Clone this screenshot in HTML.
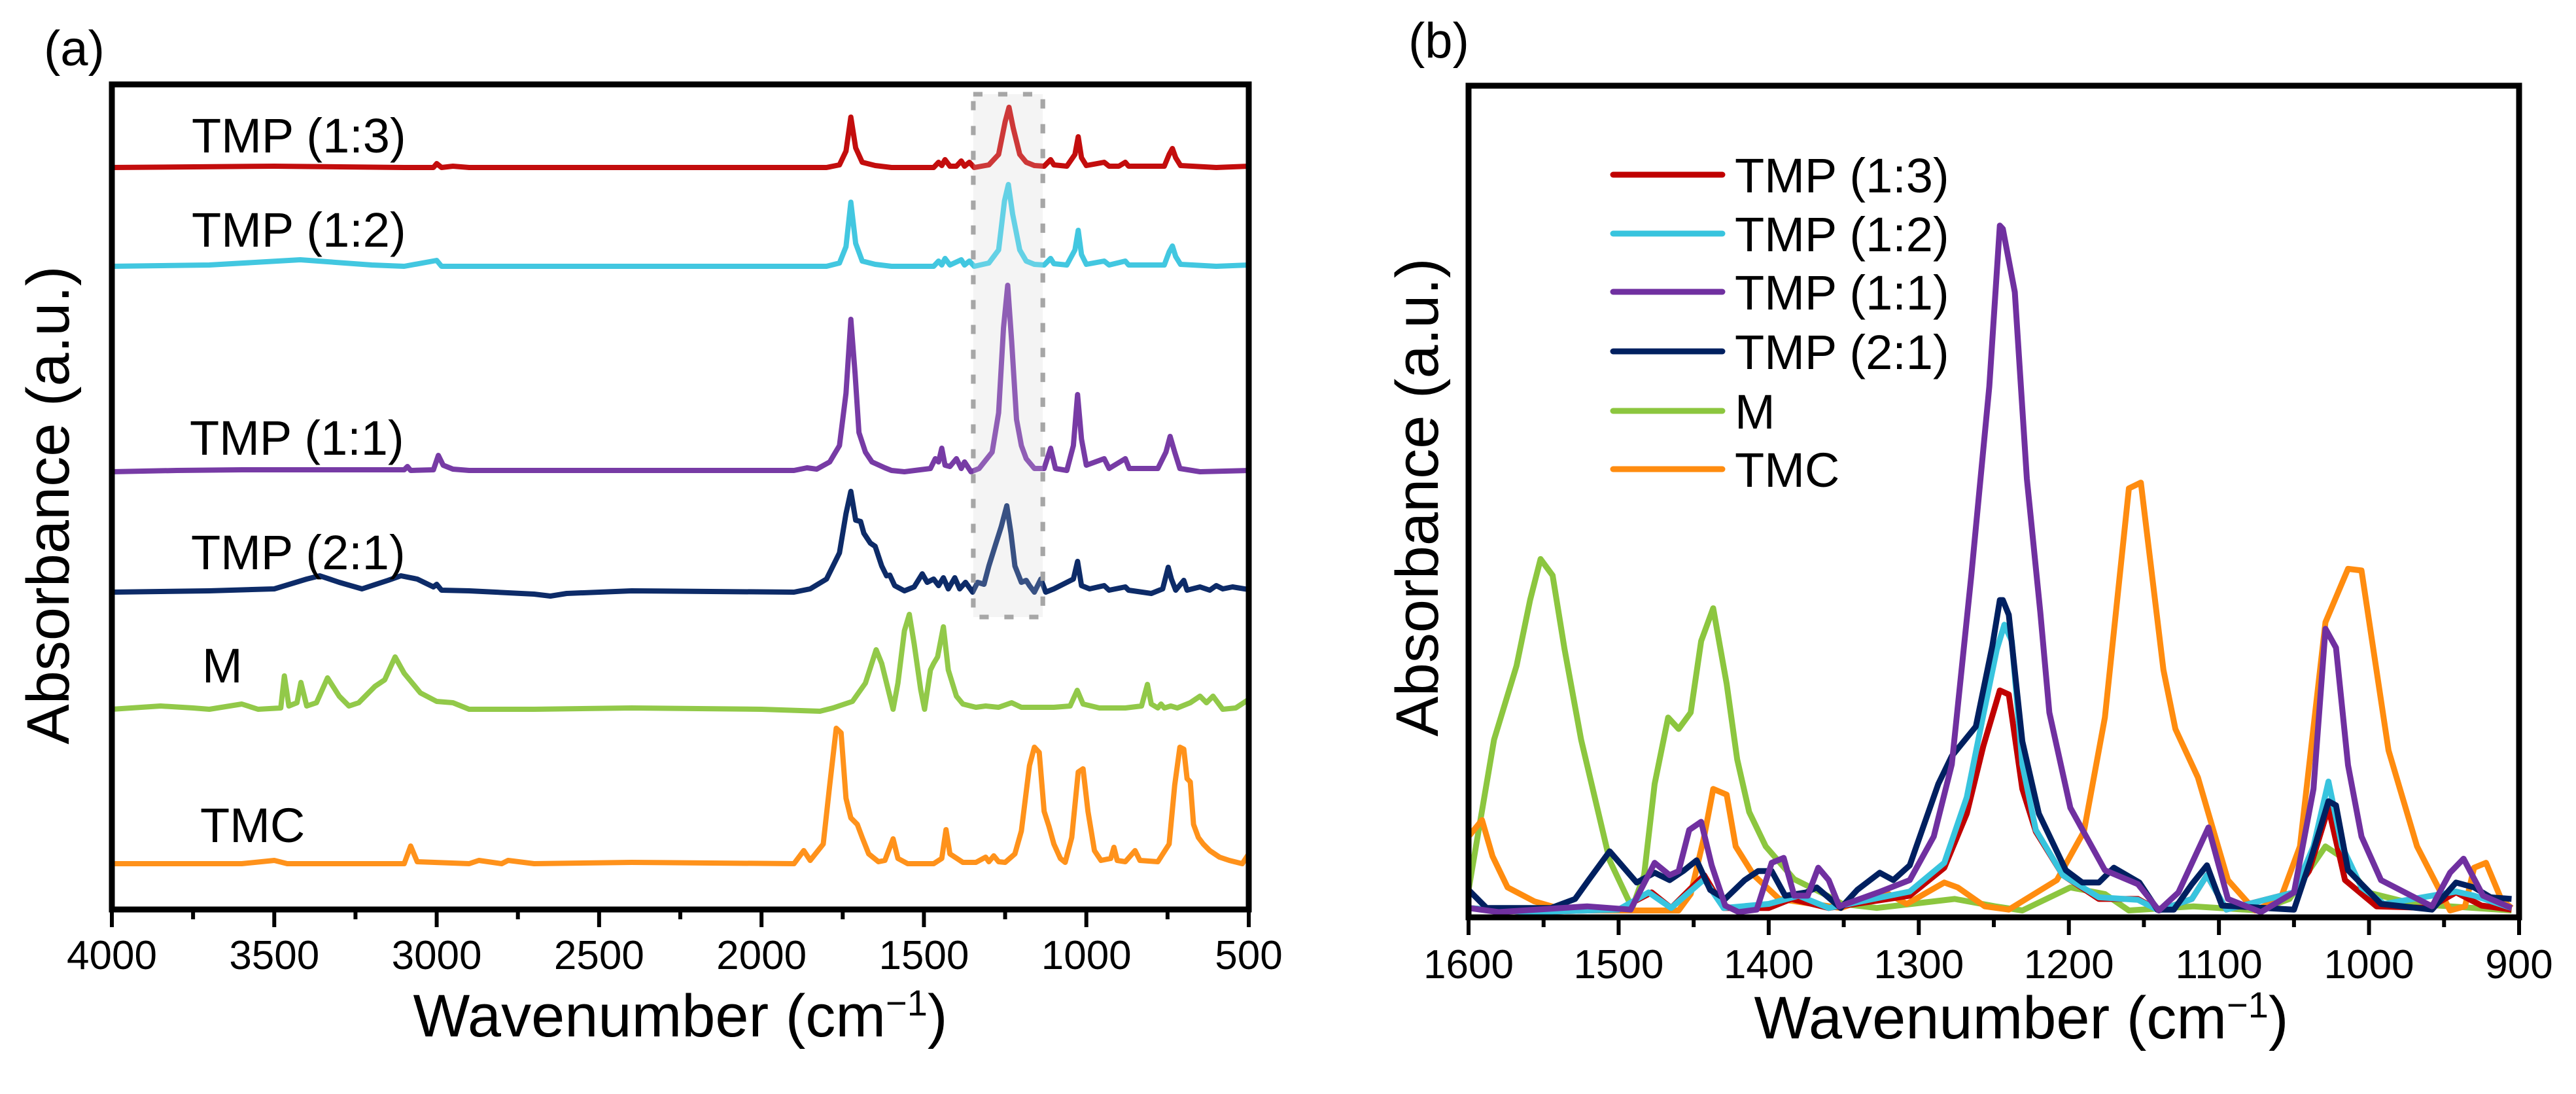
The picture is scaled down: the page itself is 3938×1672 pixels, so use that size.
<!DOCTYPE html>
<html><head><meta charset="utf-8"><style>
html,body{margin:0;padding:0;background:#fff}
svg{display:block;font-family:"Liberation Sans",Arial,sans-serif}
</style></head><body>
<svg id="fig" width="3938" height="1672" viewBox="0 0 3938 1672" xmlns="http://www.w3.org/2000/svg">
<g id="panelA"></g>
<g id="panelB"></g>
</svg>
<script>
// ---------- Panel (a) data: [wavenumber, height above own baseline] ----------
const aNames = ["TMP (1:3)","TMP (1:2)","TMP (1:1)","TMP (2:1)","M","TMC"];
const aOffsets = [1134, 983, 669, 485, 306, 70];
const aTicks = [4000,3500,3000,2500,2000,1500,1000,500];
const a13 = [[4000,0],[3500,2],[3100,0],[3010,0],[3000,6],[2985,0],[2950,2],[2900,0],[1800,0],[1760,4],[1740,25],[1725,77],[1710,30],[1690,8],[1650,3],[1600,0],[1470,0],[1455,8],[1445,3],[1435,12],[1420,2],[1400,2],[1385,10],[1375,2],[1360,8],[1345,0],[1300,4],[1270,20],[1250,70],[1238,92],[1225,60],[1205,20],[1185,8],[1160,3],[1130,2],[1110,12],[1100,4],[1060,2],[1035,20],[1025,47],[1015,15],[1000,3],[945,8],[930,2],[900,2],[880,8],[870,2],[760,2],[745,20],[735,29],[725,15],[710,3],[600,0],[500,2]];
const a12 = [[4000,0],[3700,2],[3420,10],[3200,2],[3100,0],[3000,9],[2985,0],[1800,0],[1760,5],[1740,30],[1725,98],[1710,35],[1690,8],[1650,3],[1600,0],[1470,0],[1455,8],[1445,2],[1435,12],[1420,2],[1385,10],[1375,2],[1360,8],[1345,0],[1300,5],[1270,25],[1252,100],[1240,125],[1227,80],[1205,25],[1185,8],[1160,3],[1130,2],[1110,12],[1100,4],[1060,2],[1035,25],[1025,55],[1015,18],[1000,3],[945,8],[930,2],[880,8],[870,2],[760,2],[745,22],[735,31],[725,15],[710,3],[600,0],[500,2]];
const a11 = [[4000,0],[3800,2],[3600,3],[3100,3],[3090,8],[3080,2],[3010,3],[2995,25],[2980,10],[2950,4],[2900,2],[1900,2],[1860,6],[1830,4],[1790,15],[1760,40],[1740,120],[1725,233],[1712,150],[1700,60],[1680,30],[1660,15],[1620,6],[1600,2],[1560,0],[1480,5],[1465,20],[1455,15],[1445,36],[1435,10],[1420,8],[1400,20],[1385,5],[1375,15],[1355,0],[1330,5],[1290,30],[1270,90],[1255,220],[1242,285],[1230,200],[1215,80],[1200,40],[1185,20],[1160,5],[1130,5],[1110,36],[1095,5],[1060,2],[1040,40],[1027,118],[1015,50],[1000,10],[945,20],[930,5],[880,20],[868,5],[780,5],[755,30],[742,54],[728,30],[712,5],[650,0],[500,2]];
const a21 = [[4000,0],[3700,2],[3500,5],[3400,20],[3360,25],[3300,15],[3230,5],[3150,18],[3110,25],[3060,20],[3010,8],[3000,12],[2985,3],[2900,2],[2700,-3],[2650,-6],[2600,-2],[2400,2],[1900,0],[1850,5],[1800,20],[1760,60],[1740,120],[1725,154],[1710,110],[1695,108],[1685,90],[1665,75],[1650,70],[1630,40],[1615,25],[1605,26],[1590,10],[1560,2],[1530,8],[1505,28],[1490,15],[1470,20],[1455,10],[1440,22],[1425,5],[1405,22],[1390,5],[1372,15],[1350,0],[1335,15],[1315,12],[1300,40],[1280,72],[1262,100],[1245,132],[1232,90],[1220,40],[1200,15],[1185,18],[1175,10],[1160,0],[1140,20],[1125,0],[1100,5],[1040,20],[1027,47],[1015,10],[990,5],[945,10],[930,3],[880,8],[870,3],[800,-2],[765,5],[748,38],[738,20],[725,3],[700,18],[690,3],[650,8],[620,3],[600,10],[580,5],[550,8],[500,4]];
const aM = [[4000,0],[3850,5],[3750,2],[3700,0],[3600,8],[3550,0],[3480,2],[3469,51],[3455,5],[3430,10],[3418,41],[3400,5],[3370,10],[3336,48],[3300,20],[3270,5],[3240,10],[3190,35],[3160,45],[3128,80],[3100,55],[3050,25],[3000,12],[2950,10],[2900,0],[2700,0],[2400,2],[2000,0],[1820,-3],[1780,2],[1720,12],[1680,40],[1647,91],[1630,70],[1610,30],[1595,0],[1580,40],[1560,120],[1545,145],[1530,100],[1510,30],[1498,0],[1480,60],[1470,70],[1458,80],[1440,126],[1425,60],[1400,20],[1380,8],[1340,3],[1310,5],[1270,3],[1230,10],[1200,3],[1100,3],[1050,5],[1028,29],[1010,8],[960,2],[880,2],[830,5],[812,38],[800,8],[780,2],[770,8],[760,2],[740,5],[720,2],[680,10],[650,20],[630,10],[610,20],[580,0],[540,2],[500,15]];
const aTMC = [[4000,0],[3600,0],[3500,5],[3460,0],[3100,0],[3080,27],[3060,3],[2900,0],[2870,5],[2800,0],[2780,5],[2700,0],[2400,2],[1900,0],[1870,20],[1850,5],[1810,30],[1790,120],[1770,207],[1755,200],[1740,100],[1725,70],[1705,60],[1690,40],[1670,15],[1640,3],[1620,5],[1595,38],[1580,8],[1550,0],[1470,0],[1445,8],[1432,52],[1420,15],[1380,2],[1340,2],[1310,10],[1300,3],[1285,12],[1270,3],[1250,2],[1220,15],[1200,50],[1175,150],[1160,178],[1145,170],[1130,80],[1115,57],[1100,30],[1080,8],[1065,2],[1045,40],[1025,140],[1010,145],[995,80],[975,20],[955,5],[925,8],[915,25],[905,5],[880,3],[850,20],[835,5],[780,3],[745,30],[728,120],[712,178],[700,175],[690,130],[680,125],[670,60],[655,40],[640,30],[620,20],[590,10],[560,5],[520,0],[500,15]];
const aSeries = [a13,a12,a11,a21,aM,aTMC];
const aBox = [1348,1134]; // highlighted wavenumber range

// ---------- Panel (b) data: [wavenumber, absorbance a.u. 0..100] ----------
const bNames = ["TMP (1:3)","TMP (1:2)","TMP (1:1)","TMP (2:1)","M","TMC"];
const bTicks = [1600,1500,1400,1300,1200,1100,1000,900];
const b13 = [[1600,0.5],[1560,0],[1500,0.3],[1478,2.4],[1465,0.5],[1443,4.5],[1430,0.5],[1400,0.5],[1385,1.6],[1360,0.5],[1306,2],[1283,5.4],[1268,12],[1257,20.2],[1246,27],[1240,26.5],[1231,15],[1222,9.8],[1204,4.5],[1180,1.6],[1154,1.6],[1140,0.2],[1118,1.6],[1108,4.5],[1095,0.3],[1050,2.4],[1040,5],[1027,12.7],[1016,3.9],[995,0.7],[960,0.5],[942,2.4],[925,0.8],[905,0.3]];
const b12 = [[1600,0.5],[1560,0],[1500,0.3],[1480,2.4],[1465,0.5],[1443,4],[1430,0.5],[1400,1],[1380,2],[1360,0.5],[1306,2.5],[1283,6],[1268,14],[1257,24],[1248,32],[1243,35],[1238,33],[1231,18],[1222,10],[1204,4.5],[1180,1.8],[1154,1.5],[1140,0.2],[1118,1.6],[1108,4.5],[1095,0.3],[1050,2.4],[1037,8],[1027,15.9],[1018,8],[1005,3],[990,1],[942,2.5],[930,2],[905,0.5]];
const b11 = [[1600,0.5],[1580,0],[1521,0.7],[1492,0.3],[1476,6],[1466,4.5],[1460,5],[1453,10],[1445,11],[1438,5.7],[1429,0.8],[1420,0],[1408,0.3],[1398,6],[1390,6.6],[1383,2],[1374,2],[1367,5.4],[1360,3.9],[1353,0.7],[1327,2.4],[1306,3.9],[1290,9.2],[1278,18],[1265,41],[1253,64],[1246,83.6],[1244,83.2],[1236,75.5],[1228,52.8],[1219,36.5],[1213,24.3],[1199,12.7],[1176,5.1],[1154,3.4],[1140,0.2],[1127,2.4],[1107,10.3],[1094,1.6],[1072,0],[1050,2.4],[1037,15],[1029,34.5],[1022,32.2],[1014,17.9],[1005,9.2],[992,3.9],[958,0.7],[946,4.8],[937,6.5],[924,2],[905,0.5]];
const b21 = [[1600,2.7],[1588,0.5],[1545,0.5],[1529,1.6],[1520,3.9],[1506,7.4],[1488,3.6],[1476,4.8],[1466,3.9],[1457,5],[1448,6.3],[1439,2.7],[1429,1.6],[1416,3.9],[1407,5],[1398,5],[1389,2],[1375,2.4],[1368,3],[1352,0.5],[1341,2.7],[1326,4.8],[1317,3.9],[1306,5.7],[1287,15.6],[1278,19],[1262,22.6],[1251,32.4],[1246,38],[1244,38],[1240,36.2],[1231,20.8],[1220,12],[1202,5.1],[1191,3.6],[1180,3.6],[1170,5.4],[1153,3.6],[1141,0.3],[1130,0.3],[1118,3.4],[1108,5.7],[1098,0.8],[1050,0.3],[1039,6.3],[1027,13.5],[1022,13],[1014,5.1],[992,1],[958,0.3],[942,3.6],[930,3],[919,1.8],[905,1.6]];
const bM = [[1601,1.6],[1583,21],[1568,30],[1559,38],[1552,43],[1544,41],[1536,32],[1525,21],[1506,6.3],[1491,0.5],[1483,4.5],[1476,15.6],[1467,23.7],[1460,22.3],[1452,24.3],[1445,33],[1437,37],[1428,27.8],[1421,18.6],[1413,12.2],[1402,8],[1383,4],[1363,2.2],[1351,1],[1328,0.5],[1276,1.6],[1249,0.7],[1231,0.2],[1199,3],[1176,2.2],[1160,0.2],[1117,0.7],[1074,0.2],[1053,1.6],[1029,8],[1019,6.8],[1001,2.4],[970,1],[905,0.2]];
const bTMC = [[1600,9.2],[1591,11.2],[1584,6.8],[1574,3],[1556,1.3],[1535,0.2],[1492,0.2],[1460,0.2],[1452,2.2],[1443,9.2],[1437,15],[1428,14.3],[1422,8],[1410,4.5],[1393,1.6],[1352,0.5],[1322,2.4],[1308,1],[1283,3.6],[1274,3],[1256,0.7],[1240,0.3],[1208,3.9],[1190,9.8],[1176,23.7],[1160,51.6],[1152,52.3],[1137,29.5],[1129,22.3],[1114,16.4],[1094,3.9],[1076,0.2],[1059,1.6],[1046,8],[1029,35.3],[1014,41.8],[1005,41.6],[987,19.7],[968,8],[946,0.2],[936,0.7],[930,5.4],[922,6],[912,1.6],[905,0.5]];
const bSeries = [b13,b12,b11,b21,bM,bTMC];

const colors = ["#c00000","#38c4de","#7030a0","#002060","#8cc63f","#ff8c0f"];
const NS = "http://www.w3.org/2000/svg";
function mk(parent, tag, attrs, text){
  const e = document.createElementNS(NS, tag);
  for (const k in attrs) e.setAttribute(k, attrs[k]);
  if (text !== undefined) e.textContent = text;
  parent.appendChild(e);
  return e;
}
const A = {l:171, r:1909, t:129, b:1390};
const axX = w => A.l + (4000 - w) / 3500 * (A.r - A.l);
const ayV = v => A.b - v;
const B = {l:2245, r:3851, t:131, b:1402};
const bxX = w => B.l + (1600 - w) / 700 * (B.r - B.l);
const byV = v => B.b - 8 - v * 12.55;

const gA = document.getElementById('panelA');
const gB = document.getElementById('panelB');

const bx = mk(gA,'rect',{x:axX(aBox[0]),y:144,width:axX(aBox[1])-axX(aBox[0]),height:799,fill:'#f2f2f2',stroke:'#a6a6a6','stroke-width':7,'stroke-dasharray':'14 24'});



const aLabelY = [233, 377, 695, 870, 1043, 1287];
const aLabelX = [293, 293, 290, 292, 309, 306];
aSeries.forEach((s,i)=>{
  const d = s.map((p,j)=>(j?'L':'M')+axX(p[0]).toFixed(1)+','+ayV(aOffsets[i]+p[1]).toFixed(1)).join(' ');
  const p = mk(gA,'path',{d:d,fill:'none',stroke:colors[i],'stroke-width':8,'stroke-linejoin':'round','stroke-opacity':0.95});
  
  
  const t = mk(gA,'text',{x:aLabelX[i],y:aLabelY[i],'font-size':74,fill:'#000'},aNames[i]);
  
  
});
const ov = mk(gA,'rect',{x:axX(aBox[0]),y:144,width:axX(aBox[1])-axX(aBox[0]),height:799,fill:'#ffffff','fill-opacity':0.18,stroke:'#a6a6a6','stroke-width':7,'stroke-dasharray':'14 24'});



const fa = mk(gA,'rect',{x:A.l,y:A.t,width:A.r-A.l,height:A.b-A.t,fill:'none',stroke:'#000','stroke-width':9});


for (let w=4000; w>=500; w-=250){
  const major = w % 500 === 0;
  const tk = mk(gA,'line',{x1:axX(w),x2:axX(w),y1:A.b,y2:A.b+(major?27:15),stroke:'#000','stroke-width':6});
  
  
}
aTicks.forEach(w=>{
  const t = mk(gA,'text',{x:axX(w),y:1481,'font-size':62,'text-anchor':'middle'},String(w));
  
  
});
const xtA = mk(gA,'text',{x:1040,y:1584,'font-size':92,'text-anchor':'middle'});


xtA.innerHTML = 'Wavenumber (cm<tspan dy="-32" font-size="56">−1</tspan><tspan dy="32">)</tspan>';
const ytA = mk(gA,'text',{x:0,y:0,'font-size':92,'text-anchor':'middle',transform:'translate(105,772) rotate(-90)'},'Absorbance (a.u.)');


const pa = mk(gA,'text',{x:67,y:100,'font-size':76},'(a)');



const clip = mk(gB,'clipPath',{id:'clipB'});
mk(clip,'rect',{x:B.l,y:B.t,width:B.r-B.l,height:B.b-B.t});
const order = [4,5,0,1,3,2];
order.forEach(i=>{
  const s = bSeries[i];
  const d = s.map((p,j)=>(j?'L':'M')+bxX(p[0]).toFixed(1)+','+byV(p[1]).toFixed(1)).join(' ');
  const p = mk(gB,'path',{d:d,fill:'none',stroke:colors[i],'stroke-width':9,'stroke-linejoin':'round','clip-path':'url(#clipB)'});
  
  
});
const fb = mk(gB,'rect',{x:B.l,y:B.t,width:B.r-B.l,height:B.b-B.t,fill:'none',stroke:'#000','stroke-width':9});


for (let w=1600; w>=900; w-=50){
  const major = w % 100 === 0;
  const tk = mk(gB,'line',{x1:bxX(w),x2:bxX(w),y1:B.b,y2:B.b+(major?27:15),stroke:'#000','stroke-width':6});
  
  
}
bTicks.forEach(w=>{
  const t = mk(gB,'text',{x:bxX(w),y:1495,'font-size':62,'text-anchor':'middle'},String(w));
  
  
});
const xtB = mk(gB,'text',{x:3090,y:1587,'font-size':92,'text-anchor':'middle'});


xtB.innerHTML = 'Wavenumber (cm<tspan dy="-32" font-size="56">−1</tspan><tspan dy="32">)</tspan>';
const ytB = mk(gB,'text',{x:0,y:0,'font-size':92,'text-anchor':'middle',transform:'translate(2198,760) rotate(-90)'},'Absorbance (a.u.)');


const pb = mk(gB,'text',{x:2153,y:88,'font-size':76},'(b)');


const legRows = [267,357,446,537,628,717];
bNames.forEach((n,i)=>{
  const g = mk(gB,'g',{});
  
  
  mk(g,'line',{x1:2466,x2:2633,y1:legRows[i],y2:legRows[i],stroke:colors[i],'stroke-width':9,'stroke-linecap':'round'});
  mk(g,'text',{x:2652,y:legRows[i]+27,'font-size':74},n);
});
</script>
</body></html>
